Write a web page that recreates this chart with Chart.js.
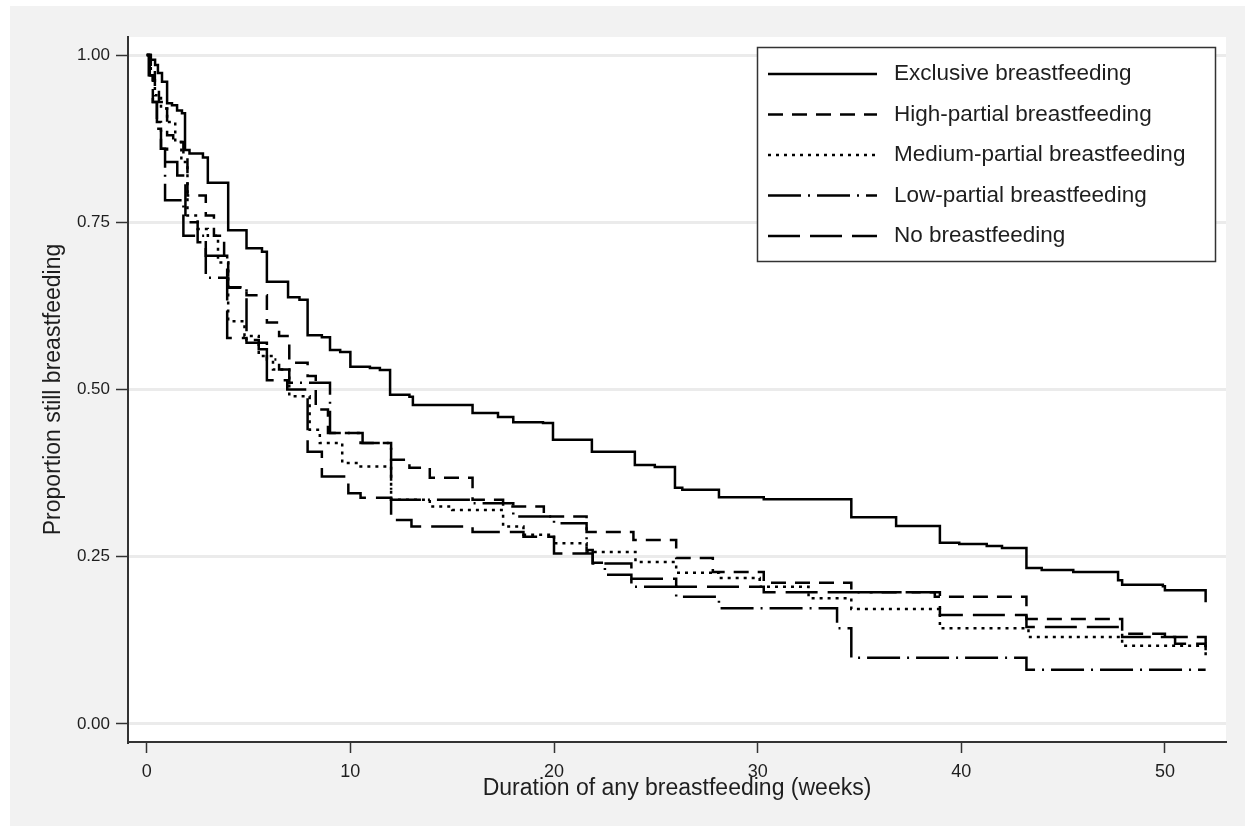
<!DOCTYPE html>
<html>
<head>
<meta charset="utf-8">
<script src="https://cdn.jsdelivr.net/npm/chart.js@4/dist/chart.umd.min.js"></script>
<style>
  html, body { margin: 0; padding: 0; background: #fff; }
  #wrap { width: 1250px; height: 831px; position: relative; }
</style>
</head>
<body>
<div id="wrap"><canvas id="km"></canvas></div>
<script>
// Kaplan-Meier curves: [week, proportion after the step]
const seriesNames = [
  'Exclusive breastfeeding',
  'High-partial breastfeeding',
  'Medium-partial breastfeeding',
  'Low-partial breastfeeding',
  'No breastfeeding'
];

const exclusiveWeeks = [0, 0.2, 0.41, 0.55, 0.75, 1.0, 1.24, 1.49, 1.73, 1.88, 2.1, 2.76, 3.0, 4.0, 4.9, 5.66, 5.9, 6.94, 7.5, 7.9, 8.6, 9.0, 9.5, 10.0, 10.96, 11.45, 11.95, 12.9, 13.07, 16.0, 17.25, 18.0, 19.46, 19.95, 21.86, 23.97, 24.95, 25.94, 26.3, 28.1, 30.3, 34.6, 36.8, 38.95, 39.9, 41.25, 42.0, 43.2, 43.95, 45.5, 47.7, 47.9, 49.9, 50.0, 52.0];
const exclusiveSurv = [1, 0.993, 0.985, 0.973, 0.96, 0.928, 0.925, 0.917, 0.913, 0.858, 0.853, 0.847, 0.809, 0.738, 0.711, 0.706, 0.661, 0.638, 0.634, 0.581, 0.578, 0.559, 0.556, 0.534, 0.532, 0.529, 0.492, 0.489, 0.477, 0.465, 0.459, 0.451, 0.45, 0.425, 0.407, 0.387, 0.384, 0.353, 0.35, 0.339, 0.336, 0.309, 0.296, 0.271, 0.269, 0.266, 0.263, 0.233, 0.23, 0.227, 0.215, 0.208, 0.206, 0.2, 0.182];

const highWeeks = [0, 0.2, 0.4, 0.6, 0.8, 1.0, 1.3, 1.8, 2.0, 2.9, 3.3, 3.8, 4.0, 4.9, 5.9, 6.5, 7.0, 7.9, 8.3, 8.9, 10.5, 12.0, 12.9, 13.9, 16.0, 17.5, 19.5, 21.6, 23.9, 26.0, 27.8, 30.3, 34.6, 38.7, 43.2, 47.9, 50.0, 52.0];
const highSurv = [1, 0.98, 0.95, 0.93, 0.92, 0.88, 0.87, 0.85, 0.79, 0.76, 0.73, 0.69, 0.653, 0.641, 0.6, 0.58, 0.54, 0.52, 0.47, 0.435, 0.42, 0.395, 0.383, 0.368, 0.335, 0.325, 0.31, 0.287, 0.275, 0.248, 0.227, 0.211, 0.197, 0.19, 0.157, 0.135, 0.13, 0.12];

const mediumWeeks = [0, 0.2, 0.4, 0.7, 1.0, 1.4, 1.7, 2.0, 2.5, 3.0, 3.5, 4.0, 4.8, 5.5, 6.2, 7.0, 8.0, 8.5, 9.6, 10.5, 12.0, 13.9, 15.0, 17.5, 18.5, 20.0, 21.6, 24.0, 26.0, 28.1, 30.1, 32.5, 34.6, 38.95, 43.3, 47.9, 52.0];
const mediumSurv = [1, 0.97, 0.94, 0.92, 0.9, 0.87, 0.84, 0.76, 0.74, 0.73, 0.69, 0.602, 0.58, 0.55, 0.53, 0.49, 0.44, 0.42, 0.39, 0.385, 0.335, 0.325, 0.32, 0.295, 0.283, 0.27, 0.257, 0.242, 0.226, 0.218, 0.205, 0.188, 0.172, 0.143, 0.13, 0.117, 0.1];

const lowWeeks = [0, 0.15, 0.3, 0.5, 0.7, 0.9, 1.8, 2.9, 4.0, 4.9, 5.5, 5.9, 6.5, 7.0, 9.0, 10.6, 12.0, 16.0, 18.0, 20.0, 21.6, 21.9, 22.5, 23.8, 26.0, 28.1, 33.9, 34.6, 43.2, 52.0];
const lowSurv = [1, 0.97, 0.93, 0.9, 0.86, 0.783, 0.73, 0.667, 0.652, 0.574, 0.56, 0.545, 0.53, 0.51, 0.435, 0.42, 0.335, 0.33, 0.31, 0.3, 0.26, 0.241, 0.223, 0.205, 0.19, 0.173, 0.143, 0.099, 0.081, 0.081];

const noneWeeks = [0, 0.1, 0.3, 0.5, 0.7, 1.0, 1.5, 1.9, 2.5, 2.9, 3.95, 4.9, 5.9, 6.9, 7.9, 8.6, 9.9, 10.5, 12.0, 13.0, 16.0, 18.5, 20.0, 21.9, 23.8, 26.0, 30.3, 38.95, 43.2, 47.9, 50.5, 52.0];
const noneSurv = [1, 0.97, 0.93, 0.89, 0.86, 0.84, 0.82, 0.75, 0.72, 0.7, 0.577, 0.57, 0.514, 0.5, 0.407, 0.37, 0.345, 0.338, 0.305, 0.295, 0.287, 0.28, 0.255, 0.24, 0.217, 0.205, 0.197, 0.163, 0.145, 0.13, 0.12, 0.11];

const xTicks = [0, 10, 20, 30, 40, 50];
const yTicks = [0, 0.25, 0.5, 0.75, 1];

const dashes = [[], [15, 9], [3, 5], [33, 7, 2, 7], [32, 10]];

function toPoints(weeks, surv) {
    return weeks.map((w, i) => ({ x: w, y: surv[i] }));
}

const curves = [
    toPoints(exclusiveWeeks, exclusiveSurv),
    toPoints(highWeeks, highSurv),
    toPoints(mediumWeeks, mediumSurv),
    toPoints(lowWeeks, lowSurv),
    toPoints(noneWeeks, noneSurv)
];

const textColor = '#1e1e1e';
const fontFamily = '"Liberation Sans", Arial, sans-serif';

// grey page + white plot region
const backdrop = {
    id: 'backdrop',
    beforeDraw(chart) {
        const { ctx, chartArea } = chart;
        ctx.save();
        ctx.fillStyle = '#ffffff';
        ctx.fillRect(0, 0, chart.width, chart.height);
        ctx.fillStyle = '#f2f2f2';
        ctx.fillRect(10, 6, 1235, 820);
        ctx.fillStyle = '#ffffff';
        ctx.fillRect(chartArea.left, chartArea.top, chartArea.right - chartArea.left, chartArea.bottom - chartArea.top);
        ctx.restore();
    }
};

// boxed legend in the top right corner, Stata style
const boxLegend = {
    id: 'boxLegend',
    afterDraw(chart) {
        const ctx = chart.ctx;
        ctx.save();
        ctx.fillStyle = '#ffffff';
        ctx.fillRect(757, 47, 458, 214);
        ctx.strokeStyle = '#333';
        ctx.lineWidth = 1.5;
        ctx.strokeRect(757.5, 47.5, 458, 214);
        chart.data.datasets.forEach((ds, i) => {
            const y = 74 + i * 40.5;
            ctx.beginPath();
            ctx.setLineDash(ds.borderDash || []);
            ctx.strokeStyle = '#000';
            ctx.lineWidth = 2.6;
            ctx.moveTo(768, y);
            ctx.lineTo(877, y);
            ctx.stroke();
            ctx.setLineDash([]);
            ctx.fillStyle = textColor;
            ctx.font = '22.5px ' + fontFamily;
            ctx.textBaseline = 'middle';
            ctx.fillText(ds.label, 894, y);
        });
        ctx.restore();
    }
};

const ctx = document.getElementById('km').getContext('2d');
new Chart(ctx, {
    type: 'line',
    data: {
        datasets: curves.map((pts, i) => ({
            label: seriesNames[i],
            data: pts,
            borderColor: '#000',
            borderWidth: 2.5,
            borderDash: dashes[i],
            pointRadius: 0,
            stepped: 'before',
            fill: false
        }))
    },
    options: {
        responsive: true,
        maintainAspectRatio: false,
        animation: false,
        layout: { padding: { left: 0, top: 37, right: 24, bottom: 0 } },
        plugins: { legend: { display: false }, tooltip: { enabled: false } },
        scales: {
            x: {
                type: 'linear',
                min: -0.92,
                max: 53.0,
                afterBuildTicks: (scale) => { scale.ticks = xTicks.map(v => ({ value: v })); },
                afterFit: (scale) => { scale.height = 89; },
                ticks: { color: textColor, font: { size: 18, family: fontFamily }, padding: 8, callback: v => String(v) },
                grid: { drawOnChartArea: false, drawTicks: true, tickLength: 11, tickColor: '#333', tickWidth: 1.5 },
                border: { display: true, color: '#333', width: 2 },
                title: { display: true, text: 'Duration of any breastfeeding (weeks)', color: textColor, font: { size: 23, family: fontFamily }, padding: { top: 0, bottom: 29 } }
            },
            y: {
                min: -0.027,
                max: 1.027,
                afterBuildTicks: (scale) => { scale.ticks = yTicks.map(v => ({ value: v })); },
                afterFit: (scale) => { scale.width = 128; },
                ticks: { color: textColor, font: { size: 17, family: fontFamily }, padding: 6, callback: v => Number(v).toFixed(2) },
                grid: { color: '#ebebeb', lineWidth: 3, drawTicks: true, tickLength: 12, tickColor: '#333', tickWidth: 1.5 },
                border: { display: true, color: '#333', width: 2 },
                title: { display: true, text: 'Proportion still breastfeeding', color: textColor, font: { size: 23, family: fontFamily }, padding: { top: 40, bottom: 0 } }
            }
        }
    },
    plugins: [backdrop, boxLegend]
});
</script>
</body>
</html>
